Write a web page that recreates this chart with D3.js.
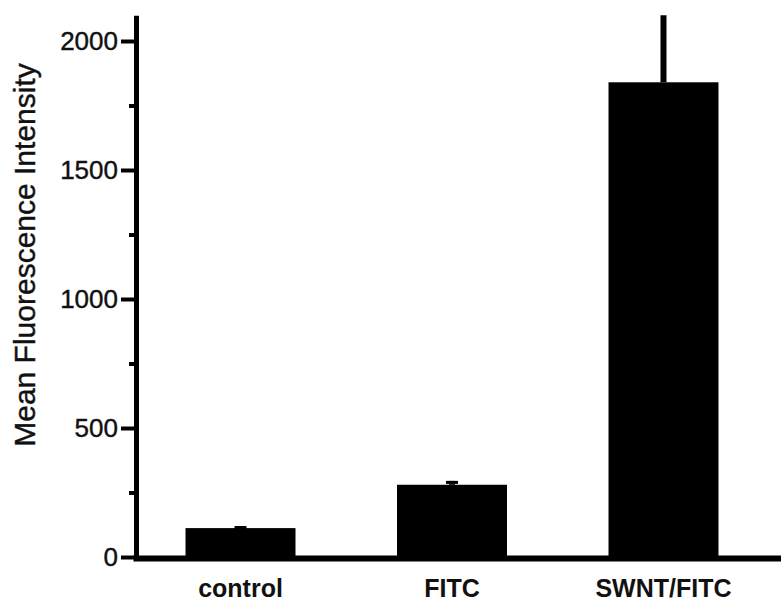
<!DOCTYPE html>
<html>
<head>
<meta charset="utf-8">
<script src="https://cdn.jsdelivr.net/npm/d3@7"></script>
<style>
  body { margin: 0; background: #fff; }
  svg { display: block; font-family: "Liberation Sans", Arial, sans-serif; }
</style>
</head>
<body>
<div id="chart"></div>
<script>
// data
const groups = ['control', 'FITC', 'SWNT/FITC'];
const meanValues = [112, 280, 1840];
const errValues = [8, 15, 270];
const majorTicks = [0, 500, 1000, 1500, 2000];
const minorTicks = [250, 750, 1250, 1750];

const width = 781, height = 606;
const axisX = 136, baseY = 557;

const svg = d3.select('#chart')
    .append('svg')
    .attr('width', width)
    .attr('height', height);

const yScale = d3.scaleLinear()
    .domain([0, 2100])
    .range([baseY, baseY - 2100 * 0.258]);

const xScale = d3.scaleBand()
    .domain(groups)
    .range([128, 776])
    .paddingInner(0.48)
    .paddingOuter(0.272);

const data = groups.map((g, i) => ({ key: g, value: meanValues[i], err: errValues[i] }));

// plot area clip so the big error bar stops at the top of the axis
svg.append('clipPath')
    .attr('id', 'plotClip')
    .append('rect')
    .attr('x', 0)
    .attr('y', yScale(2100))
    .attr('width', width)
    .attr('height', height);

const plot = svg.append('g').attr('clip-path', 'url(#plotClip)');

// error bars (upper half only)
plot.selectAll('errLines')
    .data(data)
    .enter()
    .append('line')
    .attr('x1', d => xScale(d.key) + xScale.bandwidth() / 2)
    .attr('x2', d => xScale(d.key) + xScale.bandwidth() / 2)
    .attr('y1', d => yScale(d.value))
    .attr('y2', d => yScale(d.value + d.err))
    .attr('stroke', '#000')
    .attr('stroke-width', 6);

// caps on the small bars look like little bumps
plot.selectAll('errCaps')
    .data(data.filter(d => d.err < 100))
    .enter()
    .append('line')
    .attr('x1', d => xScale(d.key) + xScale.bandwidth() / 2 - 6)
    .attr('x2', d => xScale(d.key) + xScale.bandwidth() / 2 + 6)
    .attr('y1', d => yScale(d.value + d.err) + 1.5)
    .attr('y2', d => yScale(d.value + d.err) + 1.5)
    .attr('stroke', '#000')
    .attr('stroke-width', 3);

// bars
plot.selectAll('bars')
    .data(data)
    .enter()
    .append('rect')
    .attr('x', d => xScale(d.key))
    .attr('width', xScale.bandwidth())
    .attr('y', d => yScale(d.value))
    .attr('height', d => yScale(0) - yScale(d.value))
    .attr('fill', '#000');

// y axis
const yAxis = svg.append('g')
    .attr('transform', `translate(${axisX},0)`)
    .call(d3.axisLeft(yScale)
        .tickValues(majorTicks)
        .tickFormat(d3.format('d'))
        .tickSize(15)
        .tickSizeOuter(0)
        .tickPadding(3));

yAxis.select('.domain')
    .attr('stroke', '#000')
    .attr('stroke-width', 5);
yAxis.selectAll('.tick line')
    .attr('stroke', '#000')
    .attr('stroke-width', 4);
yAxis.selectAll('.tick text')
    .attr('fill', '#111')
    .attr('stroke', '#111')
    .attr('stroke-width', 0.4)
    .style('font-size', '26px');

const yMinor = svg.append('g')
    .attr('transform', `translate(${axisX},0)`)
    .call(d3.axisLeft(yScale).tickValues(minorTicks).tickSize(7).tickFormat(''));
yMinor.select('.domain').remove();
yMinor.selectAll('.tick line')
    .attr('stroke', '#000')
    .attr('stroke-width', 4);

// x baseline
svg.append('line')
    .attr('x1', axisX - 2.5)
    .attr('x2', width)
    .attr('y1', baseY + 1.5)
    .attr('y2', baseY + 1.5)
    .attr('stroke', '#000')
    .attr('stroke-width', 6);

// x labels
const xAxis = svg.append('g')
    .attr('transform', `translate(0,${baseY + 1})`)
    .call(d3.axisBottom(xScale).tickSize(0).tickPadding(21));
xAxis.select('.domain').remove();
xAxis.selectAll('.tick text')
    .attr('fill', '#111')
    .style('font-size', '25px')
    .style('font-weight', 'bold');

// y label
svg.append('text')
    .attr('transform', 'translate(24,255) rotate(-90)')
    .attr('text-anchor', 'middle')
    .attr('dominant-baseline', 'central')
    .attr('fill', '#111')
    .attr('stroke', '#111')
    .attr('stroke-width', 0.4)
    .style('font-size', '30px')
    .text('Mean Fluorescence Intensity');
</script>
</body>
</html>
